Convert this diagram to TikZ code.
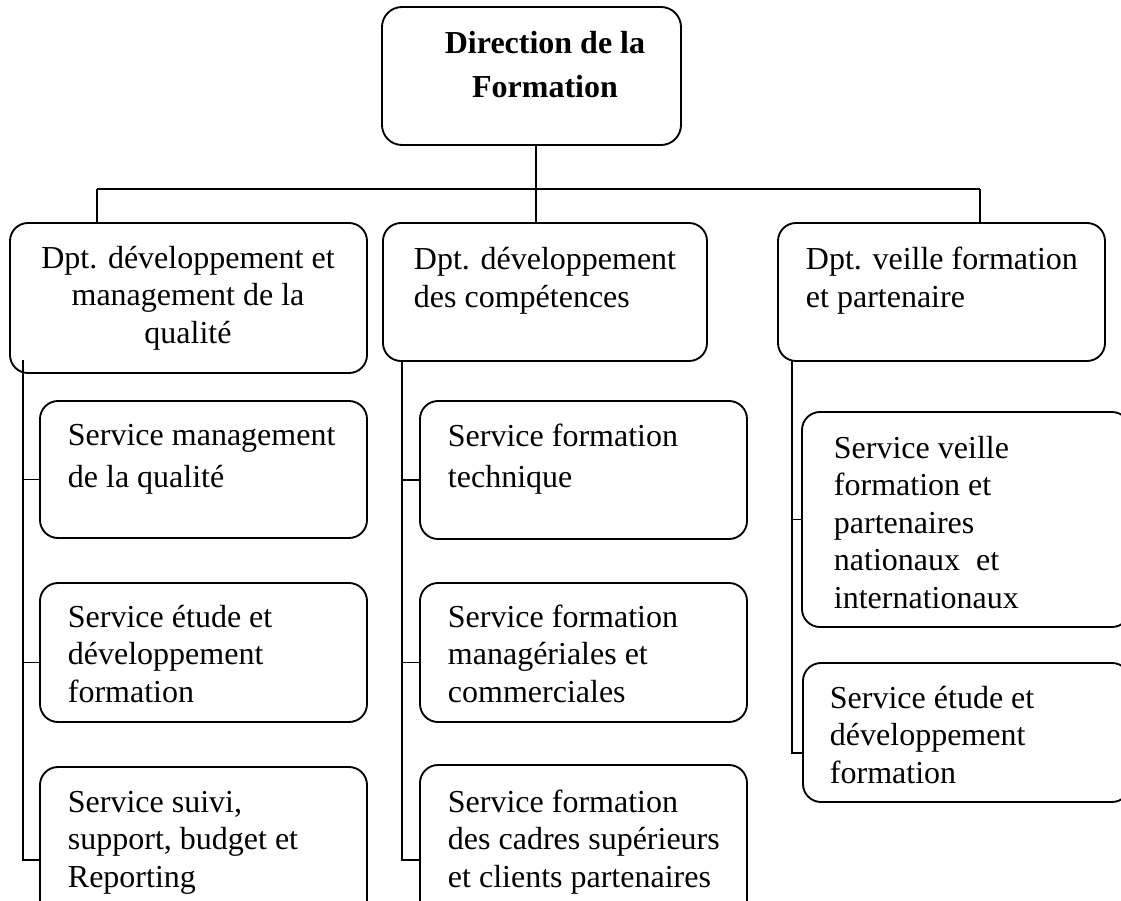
\documentclass[tikz,border=0pt]{standalone}
\usepackage{fontspec}
\setmainfont{Liberation Serif}
\usetikzlibrary{fit}
\tikzset{
  box/.style={draw, line width=1.4pt, rounded corners=13.5pt, inner sep=0pt},
  txt/.style={inner sep=0pt, align=left, anchor=base west, font=\fontsize{24}{28.1}\selectfont},
}
\def\SBOX#1#2#3#4#5{\node[box, fit={(#2,#3) (#4,#5)}] (#1) {};}

\begin{document}
\begin{tikzpicture}[x=0.75pt, y=-0.75pt, line width=1.4pt]
\useasboundingbox (0,0) rectangle (1121,900);
\clip (0,0) rectangle (1121,900);
  \node[box, rounded corners=15pt, fit={(382,7) (681,145)}] (dir) {};
  \node[txt, align=center, anchor=base, font=\bfseries\fontsize{24}{33}\selectfont] (dir-t) at (545,97) {Direction de la\\Formation};
  \SBOX{dqual}{10}{223}{367}{373}
  \SBOX{dcomp}{383}{223}{707}{361}
  \SBOX{dveil}{778}{223}{1105}{361}
  \node[txt, align=center, anchor=base] (dqual-t) at (188,343) {Dpt. développement et\\management de la\\qualité};
  \node[txt] (dcomp-t) at (413,307) {Dpt. développement\\des compétences};
  \node[txt] (dveil-t) at (805,307) {Dpt. veille formation\\et partenaire};
\coordinate (jL) at (97,189); \coordinate (jM) at (536,189); \coordinate (jR) at (980,189);
\draw (jL) -- (jR);
\draw (dir.south -| jM) -- (dcomp.north -| jM);
\draw (jL) -- (dqual.north -| jL);
\draw (jR) -- (dveil.north -| jR);
  \SBOX{sL1}{40}{401}{367}{538}
  \SBOX{sL2}{40}{583}{367}{722}
  \SBOX{sL3}{40}{767}{367}{953}
  \node[txt] (sL1-t) at (67,487) {Service management\\[3pt]de la qualité};
  \node[txt] (sL2-t) at (67,702) {Service étude et\\développement\\formation};
  \node[txt] (sL3-t) at (67,887) {Service suivi,\\support, budget et\\Reporting};
  \SBOX{sM1}{420}{401}{747}{539}
  \SBOX{sM2}{420}{583}{747}{722}
  \SBOX{sM3}{420}{765}{747}{955}
  \node[txt] (sM1-t) at (447,487) {Service formation\\[2pt]technique};
  \node[txt] (sM2-t) at (447,702) {Service formation\\managériales et\\commerciales};
  \node[txt] (sM3-t) at (447,887) {Service formation\\des cadres supérieurs\\et clients partenaires};
  \SBOX{sR1}{802}{412}{1130}{627}
  \SBOX{sR2}{803}{663}{1130}{802}
  \node[txt] (sR1-t) at (833,608) {Service veille\\formation et\\partenaires\\nationaux\ \ et\\internationaux};
  \node[txt] (sR2-t) at (829,783) {Service étude et\\développement\\formation};
\coordinate (tL) at (23,360); \coordinate (tM) at (402,361); \coordinate (tR) at (792,361);
\draw (tL) |- (sL3.west);
\draw ([yshift=-7.5pt]sL1.west) -- ([yshift=-7.5pt]sL1.west -| tL);
\draw ([yshift=-7.5pt]sL2.west) -- ([yshift=-7.5pt]sL2.west -| tL);
\draw (tM) |- (sM3.west);
\draw ([yshift=-7.5pt]sM1.west) -- ([yshift=-7.5pt]sM1.west -| tM);
\draw ([yshift=-7.5pt]sM2.west) -- ([yshift=-7.5pt]sM2.west -| tM);
\draw (tR) |- ([yshift=-15.4pt]sR2.west);
\draw (sR1.west) -- (sR1.west -| tR);
\end{tikzpicture}
\end{document}
